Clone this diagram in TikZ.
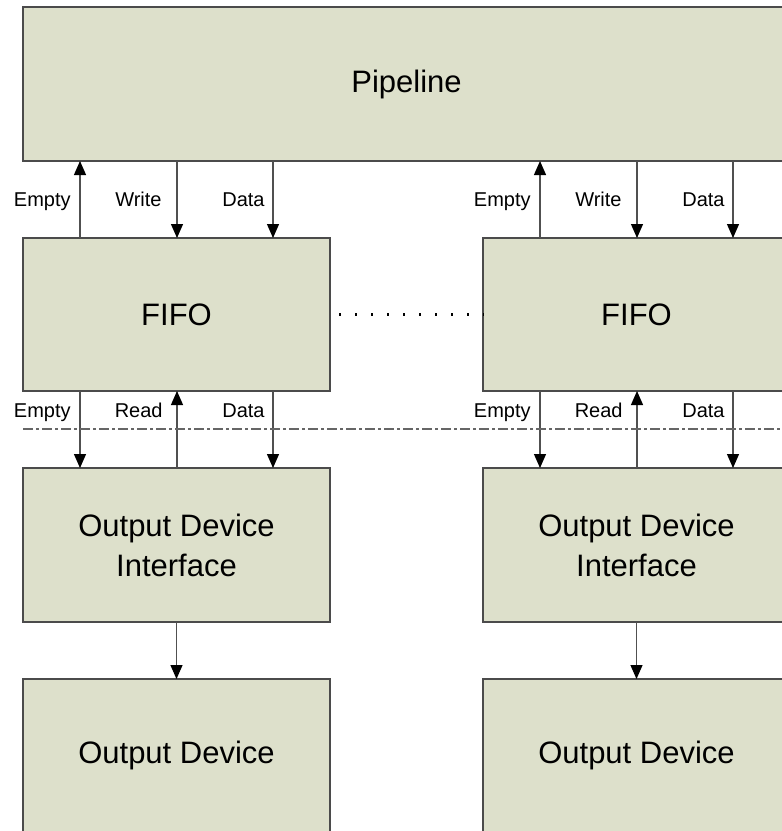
\documentclass[tikz,border=0pt]{standalone}
\usepackage{fontspec}
\setmainfont{Liberation Sans}
\usetikzlibrary{arrows.meta}
\definecolor{boxfill}{RGB}{221,224,203}
\definecolor{boxline}{RGB}{75,75,75}
\definecolor{sigline}{RGB}{80,80,80}

\begin{document}
\begin{tikzpicture}[x=0.5pt,y=-0.5pt,
    block_node/.style={rectangle,draw=boxline,fill=boxfill,line width=0.8pt,inner sep=0pt,outer sep=0pt,
        minimum width=153.5pt,minimum height=76.5pt,align=center,font=\fontsize{15.5}{20}\selectfont},
    sig_line/.style={draw=sigline,line width=0.6pt,-{Triangle[width=6pt,length=7pt,color=black]}},
    sig_label/.style={inner sep=0pt,font=\fontsize{10}{12}\selectfont},
    dot_line/.style={line width=1.1pt,dash pattern=on 1pt off 7pt},
    dash_dot_line/.style={draw=black!60,line width=0.6pt,dash pattern=on 5pt off 1.5pt on 1.5pt off 1.5pt}]

    \useasboundingbox (0,0) rectangle (782,831);
    \clip (0,0) rectangle (782,831);

    \node[block_node,minimum width=383.5pt,minimum height=77pt] (pipe) at (406.5, 84) {Pipeline};
    \node[block_node] (fifo_l) at (176.5, 314.5) {FIFO};
    \node[block_node] (fifo_r) at (636.5, 314.5) {FIFO};
    \node[block_node,minimum height=77pt] (odi_l) at (176.5, 545) {Output Device\\Interface};
    \node[block_node,minimum height=77pt] (odi_r) at (636.5, 545) {Output Device\\Interface};
    \node[block_node] (od_l) at (176.5, 755.5) {Output Device};
    \node[block_node] (od_r) at (636.5, 755.5) {Output Device};

    \foreach \col in {l,r} {
        % pipeline <-> fifo
        \draw[sig_line] ([xshift=28.5pt]fifo_\col.north west) -- ([xshift=28.5pt]pipe.south -| fifo_\col.west);
        \draw[sig_line] ([xshift=77pt]pipe.south -| fifo_\col.west) -- ([xshift=77pt]fifo_\col.north west);
        \draw[sig_line] ([xshift=125pt]pipe.south -| fifo_\col.west) -- ([xshift=125pt]fifo_\col.north west);
        \node[sig_label,anchor=base east] (empty_w_\col) at ([xshift=24pt,yshift=16pt]fifo_\col.north west) {Empty};
        \node[sig_label,anchor=base east] (write_\col) at ([xshift=69.5pt,yshift=16pt]fifo_\col.north west) {Write};
        \node[sig_label,anchor=base east] (data_w_\col) at ([xshift=121pt,yshift=16pt]fifo_\col.north west) {Data};
        % fifo <-> interface
        \draw[sig_line] ([xshift=28.5pt]fifo_\col.south west) -- ([xshift=28.5pt]odi_\col.north west);
        \draw[sig_line] ([xshift=77pt]odi_\col.north west) -- ([xshift=77pt]fifo_\col.south west);
        \draw[sig_line] ([xshift=125pt]fifo_\col.south west) -- ([xshift=125pt]odi_\col.north west);
        \node[sig_label,anchor=base east] (empty_r_\col) at ([xshift=24pt,yshift=-13pt]fifo_\col.south west) {Empty};
        \node[sig_label,anchor=base east] (read_\col) at ([xshift=70pt,yshift=-13pt]fifo_\col.south west) {Read};
        \node[sig_label,anchor=base east] (data_r_\col) at ([xshift=121pt,yshift=-13pt]fifo_\col.south west) {Data};
        % interface -> device
        \draw[sig_line] (odi_\col.south) -- (od_\col.north);
    }

    \draw[dot_line] ([xshift=4.5pt]fifo_l.east) -- ([xshift=0.6pt]fifo_r.west);
    \draw[dash_dot_line] ([yshift=-19pt]fifo_l.south west) -- ([yshift=-19pt]fifo_r.south east);
\end{tikzpicture}
\end{document}
